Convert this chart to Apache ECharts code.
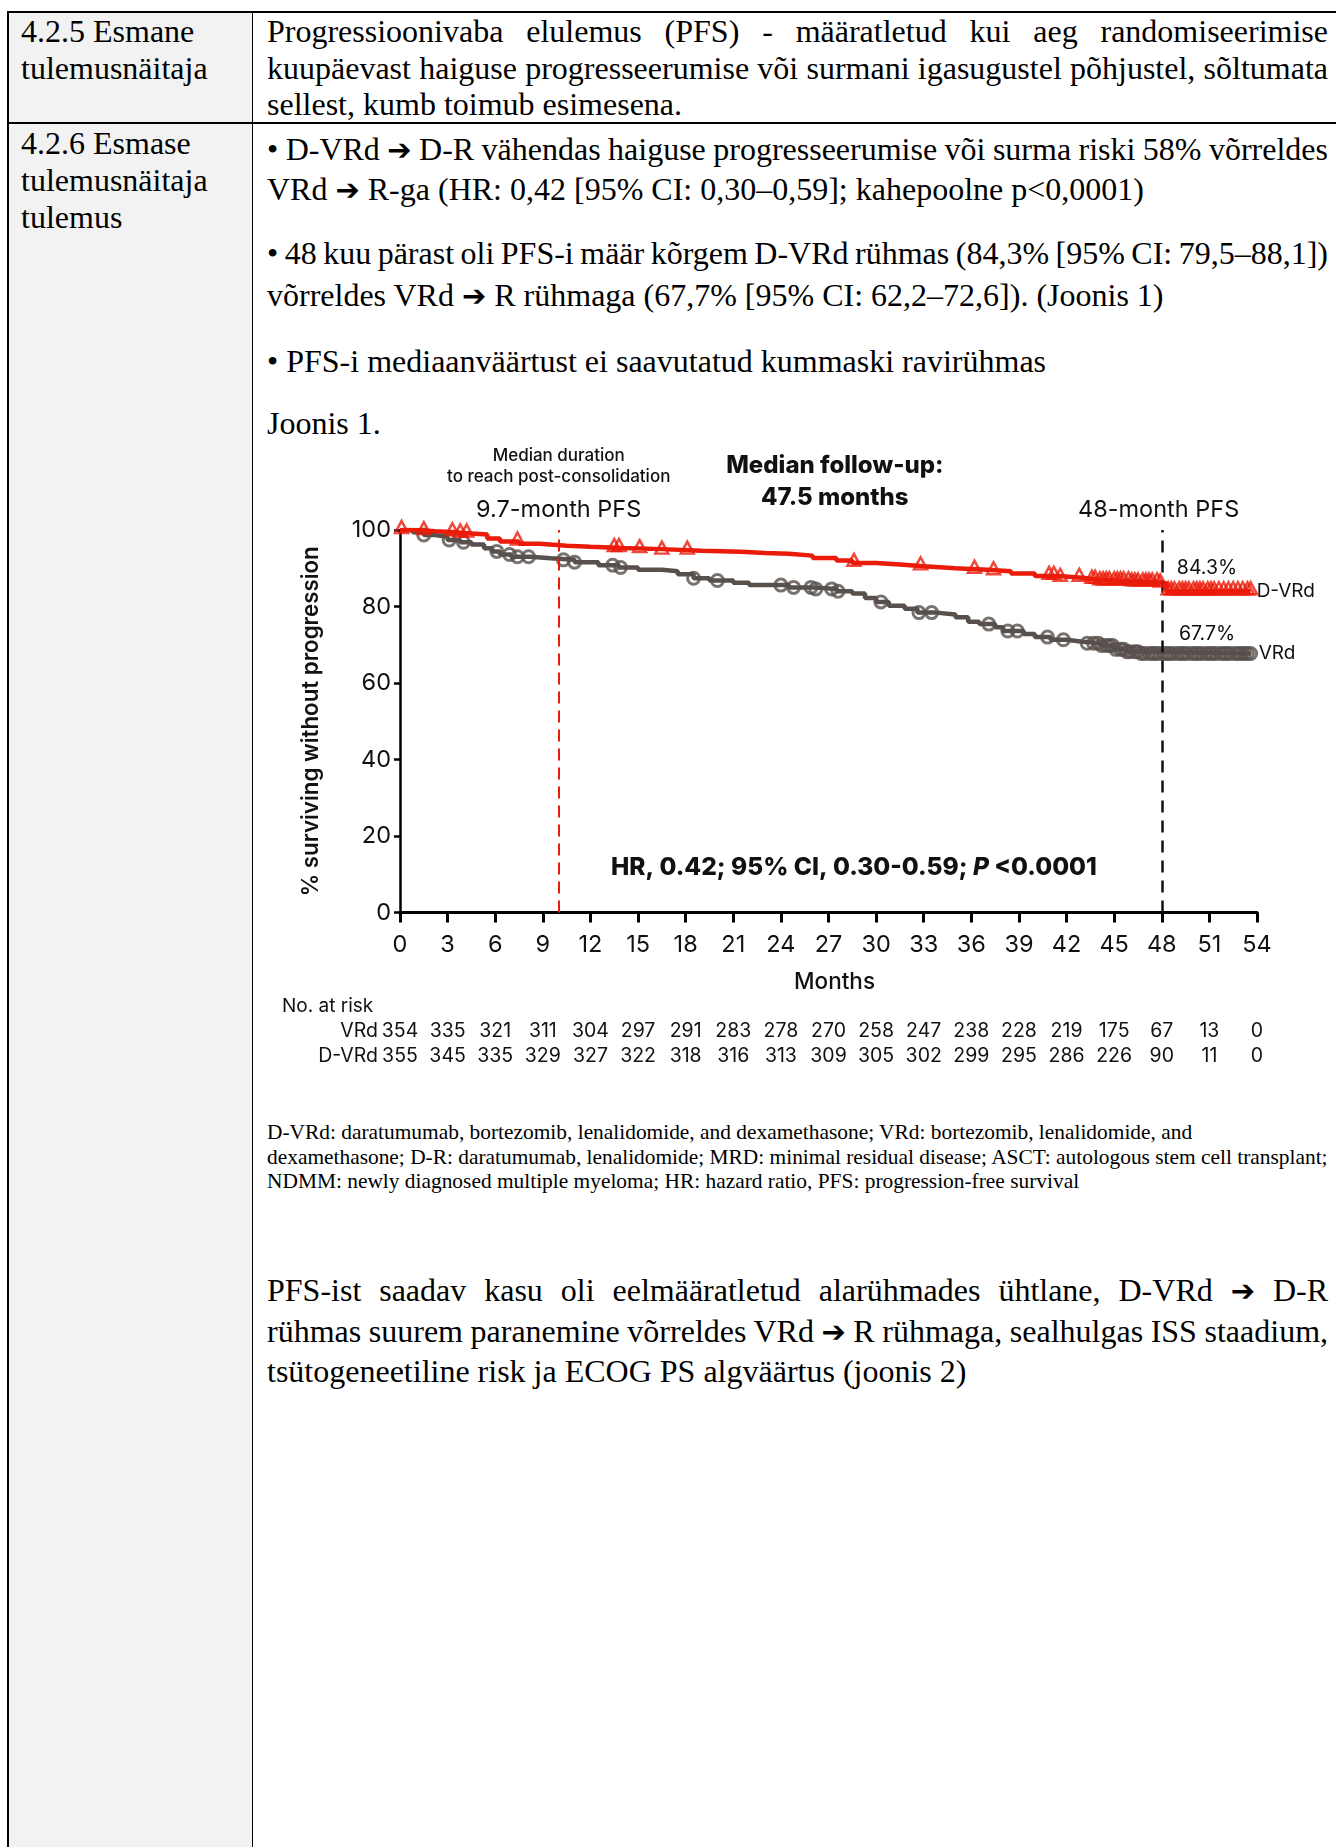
<!DOCTYPE html>
<html>
<head>
<meta charset="utf-8">
<script src="https://cdn.jsdelivr.net/npm/echarts/dist/echarts.min.js"></script>
<style>
  html, body { margin:0; padding:0; background:#fff; }
  body { width:1336px; height:1847px; position:relative; overflow:hidden; font-family:"Liberation Serif","Times New Roman",serif; color:#000; }
  .abs { position:absolute; }
  .ln { white-space:nowrap; }
  .jl { white-space:nowrap; }
  .serif32 { font-size:32px; }
  .ar { font-family:"DejaVu Sans",sans-serif; font-size:29px; line-height:0; }
  #chart { position:absolute; left:253px; top:430px; width:1083px; height:660px; }
</style>
</head>
<body>
<!-- table frame -->
<div class="abs" style="left:8px;top:12px;width:244px;height:1835px;background:#f2f2f2;"></div>
<div class="abs" style="left:7px;top:11px;width:1340px;height:2px;background:#000;"></div>
<div class="abs" style="left:7px;top:11px;width:2px;height:1836px;background:#000;"></div>
<div class="abs" style="left:252px;top:11px;width:1px;height:1836px;background:#000;"></div>
<div class="abs" style="left:7px;top:122px;width:1340px;height:1.5px;background:#000;"></div>

<!-- left column -->
<div class="abs serif32" style="left:21px;top:13px;line-height:36.5px;">
  <div class="ln">4.2.5 Esmane</div><div class="ln">tulemusnäitaja</div>
</div>
<div class="abs serif32" style="left:21px;top:125px;line-height:37px;">
  <div class="ln">4.2.6 Esmase</div><div class="ln">tulemusnäitaja</div><div class="ln">tulemus</div>
</div>

<!-- right column, row 1 -->
<div class="abs serif32" style="left:267px;top:13px;width:1061px;line-height:36.5px;">
  <div class="jl">Progressioonivaba elulemus (PFS) - määratletud kui aeg randomiseerimise</div>
  <div class="jl">kuupäevast haiguse progresseerumise või surmani igasugustel põhjustel, sõltumata</div>
  <div class="ln">sellest, kumb toimub esimesena.</div>
</div>

<!-- right column, row 2 -->
<div class="abs serif32" style="left:267px;top:129px;width:1061px;line-height:40px;">
  <div class="jl">• D-VRd <span class="ar">➔</span> D-R vähendas haiguse progresseerumise või surma riski 58% võrreldes</div>
  <div class="ln">VRd <span class="ar">➔</span> R-ga (HR: 0,42 [95% CI: 0,30–0,59]; kahepoolne p&lt;0,0001)</div>
</div>
<div class="abs serif32" style="left:267px;top:233px;width:1061px;line-height:41.5px;">
  <div class="jl">• 48 kuu pärast oli PFS-i määr kõrgem D-VRd rühmas (84,3% [95% CI: 79,5–88,1])</div>
  <div class="ln">võrreldes VRd <span class="ar">➔</span> R rühmaga (67,7% [95% CI: 62,2–72,6]). (Joonis 1)</div>
</div>
<div class="abs serif32 ln" style="left:267px;top:341px;line-height:40px;">• PFS-i mediaanväärtust ei saavutatud kummaski ravirühmas</div>
<div class="abs serif32 ln" style="left:267px;top:403px;line-height:40px;">Joonis 1.</div>

<div id="chart"></div>

<!-- footnote -->
<div class="abs" style="left:267px;top:1120px;font-size:21.4px;line-height:24.5px;">
  <div class="ln">D-VRd: daratumumab, bortezomib, lenalidomide, and dexamethasone; VRd: bortezomib, lenalidomide, and</div>
  <div class="ln">dexamethasone; D-R: daratumumab, lenalidomide; MRD: minimal residual disease; ASCT: autologous stem cell transplant;</div>
  <div class="ln">NDMM: newly diagnosed multiple myeloma; HR: hazard ratio, PFS: progression-free survival</div>
</div>

<!-- paragraph -->
<div class="abs serif32" style="left:267px;top:1270px;width:1061px;line-height:40.5px;">
  <div class="jl">PFS-ist saadav kasu oli eelmääratletud alarühmades ühtlane, D-VRd <span class="ar">➔</span> D-R</div>
  <div class="jl">rühmas suurem paranemine võrreldes VRd <span class="ar">➔</span> R rühmaga, sealhulgas ISS staadium,</div>
  <div class="ln">tsütogeneetiline risk ja ECOG PS algväärtus (joonis 2)</div>
</div>

<script>
// ---------------- DATA ----------------
const seriesNames = ['VRd', 'D-VRd'];
// Kaplan–Meier steps [month, % surviving without progression]
const vrdCurve = [[0,100],[0.8,99.4],[1.5,98.7],[2.2,98.2],[3,97.4],[3.8,96.8],[4.5,96.2],[5.3,95.2],[5.8,94.4],[6.3,93.6],[7,93.0],[8.2,92.6],[9.5,92.2],[11,91.6],[12.5,90.8],[13.8,90.2],[15,89.6],[16.5,89.2],[17.5,88.4],[18.5,87.4],[19.5,86.8],[21,86.2],[22,85.6],[24.5,85.0],[26,84.6],[27.5,84.0],[28.5,83.4],[29.3,82.2],[30,81.2],[30.8,80.2],[31.8,79.4],[32.6,78.4],[33.8,77.9],[35,77.2],[35.8,76.0],[36.5,75.4],[37.5,74.6],[38.0,73.6],[39.3,72.8],[40,72.0],[41,71.3],[42,70.8],[43,70.4],[44.2,69.8],[45,68.8],[45.8,68.2],[46.6,67.7],[53.6,67.7]];
const dvrdCurve = [[0,100],[1,99.7],[2.2,99.4],[3.5,99.1],[4.5,98.8],[5.5,97.8],[6.3,97.0],[7.5,96.4],[8.8,95.9],[10.5,95.6],[12,95.3],[14,95.0],[16.5,94.6],[19,94.3],[21.5,94.0],[23,93.8],[24.5,93.3],[26,92.7],[27.5,92.0],[28.5,91.4],[30,91.0],[31.5,90.5],[33,90.0],[35,89.6],[37,89.2],[38.5,88.6],[40,88.0],[41.5,87.5],[43,87.0],[44,86.6],[46,86.3],[47.9,86.0],[48.3,84.0],[53.6,84.0]];
// censoring times (months)
const vrdCensor = [1.5,3.1,4.0,6.1,6.9,7.4,8.1,10.3,11.0,13.4,13.9,18.5,20.0,24.0,24.8,25.9,26.2,27.2,27.6,30.3,32.7,33.5,37.1,38.3,38.9,40.8,41.8,43.3,43.7,
  44.0,44.2,44.5,44.7,44.9,45.1,45.4,45.6,45.8,46.0,46.3,46.5,46.7,46.9,47.2,47.4,47.6,47.8,48.1,48.3,48.5,48.7,49.0,49.2,49.4,49.6,49.9,50.1,50.3,50.5,50.8,51.0,51.2,51.4,51.7,51.9,52.1,52.3,52.6,52.8,53.0,53.2,53.4,53.6];
const dvrdCensor = [0.1,1.5,3.3,3.8,4.2,7.4,13.5,13.8,15.1,16.5,18.1,28.6,32.8,36.2,37.4,40.9,41.2,41.6,42.8,
  43.6,43.8,44.1,44.3,44.5,44.7,45.0,45.2,45.4,45.6,45.9,46.1,46.3,46.5,46.8,47.0,47.2,47.4,47.7,47.9,
  48.4,48.6,48.8,49.1,49.3,49.5,49.7,50.0,50.2,50.4,50.6,50.9,51.1,51.3,51.6,51.9,52.2,52.5,52.8,53.1,53.4,53.6];
// numbers at risk at months 0,3,...,54
const riskVRd  = [354,335,321,311,304,297,291,283,278,270,258,247,238,228,219,175,67,13,0];
const riskDVRd = [355,345,335,329,327,322,318,316,313,309,305,302,299,295,286,226,90,11,0];
const landmarks = [10, 48];   // dashed reference lines (months)
const pfsAt48 = ['84.3%', '67.7%'];

// ---------------- TEXT LINE FITTING (justified lines) ----------------
function fitLines() {
  document.querySelectorAll('.jl').forEach(el => {
    el.style.wordSpacing = '0px';
    el.style.display = 'inline-block';
    const w = el.getBoundingClientRect().width;
    const spaces = (el.textContent.trim().match(/ /g) || []).length;
    el.style.wordSpacing = ((1061 - w) / spaces) + 'px';
    el.style.display = 'block';
  });
}
fitLines();
if (document.fonts && document.fonts.ready) document.fonts.ready.then(fitLines);

// ---------------- CHART ----------------
const RED = '#ea1b0a', GRAY = '#58504c', FONT = 'Inter, "Liberation Sans", sans-serif';
function stepAt(curve, t) { let v = curve[0][1]; for (const p of curve) { if (p[0] <= t) v = p[1]; } return v; }
const vrdMarks = vrdCensor.map(t => [t, stepAt(vrdCurve, t)]);
const dvrdMarks = dvrdCensor.map(t => [t, stepAt(dvrdCurve, t)]);

const chart = echarts.init(document.getElementById('chart'), null, {renderer:'canvas'});
const gridBox = {left:147, top:100, width:857, height:382.5};
function riskAxis(arr, offset) {
  return {type:'value', gridIndex:0, min:0, max:54, interval:3, position:'bottom', offset:offset,
    axisLine:{show:false}, axisTick:{show:false}, splitLine:{show:false},
    axisLabel:{margin:0, verticalAlign:'middle', fontFamily:FONT, fontSize:19.5, color:'#111',
      formatter: v => { const i = Math.round(v/3); return arr[i] !== undefined ? String(arr[i]) : ''; }}};
}
chart.setOption({
  animation:false,
  grid:[gridBox],
  xAxis:[
    {type:'value', min:0, max:54, interval:3, gridIndex:0,
     axisLine:{show:true, onZero:false, lineStyle:{color:'#000', width:3}},
     axisTick:{show:true, length:10, lineStyle:{color:'#000', width:3}},
     splitLine:{show:false},
     axisLabel:{margin:20, fontFamily:FONT, fontSize:23.5, color:'#111'},
     name:'Months', nameLocation:'middle', nameGap:58,
     nameTextStyle:{fontFamily:FONT, fontSize:22.5, fontWeight:500, color:'#111', padding:[0,0,0,12]}},
    riskAxis(riskVRd, 118.5),
    riskAxis(riskDVRd, 144)
  ],
  yAxis:[{type:'value', min:0, max:100, interval:20, gridIndex:0,
     axisLine:{show:true, lineStyle:{color:'#000', width:2.5}},
     axisTick:{show:true, length:6, lineStyle:{color:'#000', width:2.5}},
     splitLine:{show:false},
     axisLabel:{margin:9, fontFamily:FONT, fontSize:23.5, color:'#111'},
     name:'% surviving without progression', nameLocation:'middle', nameRotate:90, nameGap:78,
     nameTextStyle:{fontFamily:FONT, fontSize:22.3, fontWeight:600, color:'#111'}}],
  series:[
    {name:seriesNames[0], type:'line', step:'end', data:vrdCurve, showSymbol:false, z:2,
     lineStyle:{color:GRAY, width:4.5}, itemStyle:{color:GRAY},
     endLabel:{show:true, formatter:seriesNames[0], distance:8, fontFamily:FONT, fontSize:19, color:'#111'},
     markLine:{silent:true, symbol:'none', label:{show:false},
       data:[{xAxis:landmarks[0], lineStyle:{color:RED, width:2, type:[12,7]}},
             {xAxis:landmarks[1], lineStyle:{color:'#111', width:2.5, type:[12,8]}}]}},
    {name:seriesNames[0]+' censored', type:'scatter', data:vrdMarks, symbol:'circle', symbolSize:12, z:3,
     itemStyle:{color:'rgba(0,0,0,0)', borderColor:GRAY, borderWidth:3}},
    {name:seriesNames[1], type:'line', step:'end', data:dvrdCurve, showSymbol:false, z:4,
     lineStyle:{color:RED, width:4.5}, itemStyle:{color:RED},
     endLabel:{show:true, formatter:seriesNames[1], distance:6, fontFamily:FONT, fontSize:19, color:'#111'}},
    {name:seriesNames[1]+' censored', type:'scatter', data:dvrdMarks, symbol:'triangle', symbolSize:[13,12], symbolOffset:[0,-3], z:5,
     itemStyle:{color:'rgba(0,0,0,0)', borderColor:RED, borderWidth:2.5}}
  ]
});

// annotations anchored in data coordinates
function px(m, v) { return chart.convertToPixel({gridIndex:0}, [m, v]); }
function txt(m, v, text, font, extra) {
  const p = px(m, v);
  return {type:'text', x:p[0], y:p[1], silent:true,
    style:Object.assign({text:text, font:font, fill:'#111', align:'center', verticalAlign:'middle'}, extra||{})};
}
chart.setOption({graphic:[
  txt(10, 119.3, 'Median duration', '500 17px ' + FONT),
  txt(10, 113.9, 'to reach post-consolidation', '500 17px ' + FONT),
  txt(10, 105.2, '9.7-month PFS', '23.5px ' + FONT),
  txt(27.4, 116.7, 'Median follow-up:', '800 24px ' + FONT),
  txt(27.4, 108.4, '47.5 months', '800 24px ' + FONT),
  txt(47.8, 105.2, '48-month PFS', '23.5px ' + FONT),
  txt(50.85, 90.0, pfsAt48[0], '19.5px ' + FONT),
  txt(50.85, 72.8, pfsAt48[1], '19.5px ' + FONT),
  (function(){ const p = px(28.6, 11.8); return {type:'text', x:p[0], y:p[1], silent:true,
     style:{text:'{b|HR, 0.42; 95% CI, 0.30-0.59; }{i|P}{b| <0.0001}', align:'center', verticalAlign:'middle',
       rich:{b:{fontFamily:FONT, fontWeight:800, fontSize:24.5, fill:'#111', color:'#111'},
             i:{fontFamily:FONT, fontWeight:800, fontStyle:'italic', fontSize:24.5, fill:'#111', color:'#111'}}}}; })(),
  (function(){ const p = px(0, 0); return {type:'text', x:p[0]-118, y:p[1]+94, silent:true,
     style:{text:'No. at risk', font:'19px ' + FONT, fill:'#111', align:'left', verticalAlign:'middle'}}; })(),
  (function(){ const p = px(0, 0); return {type:'text', x:p[0]-22, y:p[1]+118.5, silent:true,
     style:{text:seriesNames[0], font:'19.5px ' + FONT, fill:'#111', align:'right', verticalAlign:'middle'}}; })(),
  (function(){ const p = px(0, 0); return {type:'text', x:p[0]-22, y:p[1]+144, silent:true,
     style:{text:seriesNames[1], font:'19.5px ' + FONT, fill:'#111', align:'right', verticalAlign:'middle'}}; })()
]});
</script>
</body>
</html>
